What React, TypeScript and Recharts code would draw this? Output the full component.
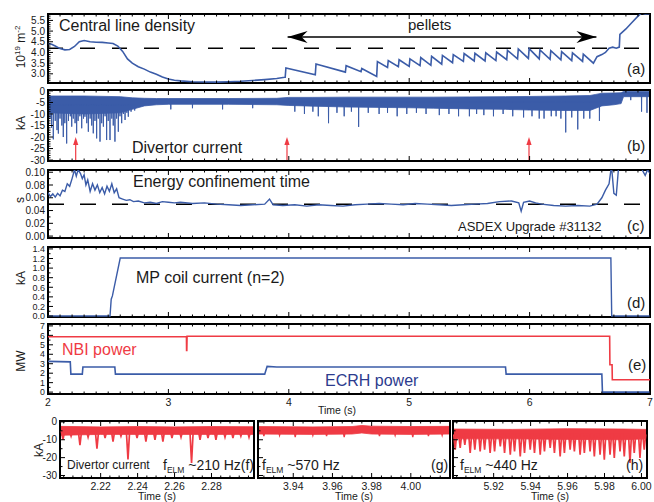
import React from 'react';
import { ComposedChart, Line, Area, Scatter, XAxis, YAxis, ReferenceLine, ReferenceArea } from 'recharts';

const FONT = '"Liberation Sans", Arial, Helvetica, sans-serif';
const BLUE = '#3b5ca8';
const RED = '#ef3b44';
const NAVY = '#2c3b8e';
const INK = '#1a1a1a';
const W = 654;
const H = 502;

// ---------- (a) central line density, 10^19 m^-2 ----------
const densEarlyT = [2.0, 2.03, 2.06, 2.1, 2.14, 2.18, 2.22, 2.26, 2.3, 2.35, 2.4, 2.45, 2.5, 2.54, 2.58, 2.62, 2.66, 2.7, 2.75, 2.8, 2.85, 2.9, 2.95, 3.0, 3.05, 3.1, 3.2, 3.3, 3.4, 3.5, 3.6, 3.7, 3.8, 3.9, 3.965];
const densEarly = [4.42, 4.38, 4.3, 4.18, 4.12, 4.14, 4.28, 4.5, 4.56, 4.5, 4.48, 4.47, 4.44, 4.42, 4.3, 4.05, 3.7, 3.5, 3.33, 3.22, 3.08, 2.98, 2.85, 2.76, 2.7, 2.67, 2.63, 2.62, 2.61, 2.63, 2.65, 2.69, 2.73, 2.78, 2.84];
const pelletT = [3.97, 4.22, 4.47, 4.6, 4.73, 4.82, 4.91, 5.0, 5.09, 5.18, 5.27, 5.36, 5.45, 5.54, 5.63, 5.72, 5.81, 5.9, 5.99, 6.08, 6.17, 6.26, 6.35, 6.44];
const pelletLow = [2.84, 2.95, 3.08, 3.1, 2.88, 3.3, 3.33, 3.35, 3.38, 3.4, 3.45, 3.52, 3.58, 3.6, 3.6, 3.62, 3.66, 3.7, 3.72, 3.7, 3.68, 3.65, 3.62, 3.58];
const pelletPeak = [3.27, 3.46, 3.38, 3.25, 3.57, 3.62, 3.66, 3.7, 3.76, 3.82, 3.86, 3.9, 3.95, 3.96, 3.98, 4.02, 4.1, 4.16, 4.18, 4.12, 4.08, 4.04, 3.98, 3.92];
const densLateT = [6.53, 6.56, 6.6, 6.63, 6.66, 6.69, 6.72, 6.745, 6.75, 6.8, 6.85, 6.9, 6.93, 6.96, 7.0];
const densLate = [3.5, 3.8, 3.9, 4.0, 4.2, 4.25, 4.2, 4.25, 4.85, 5.1, 5.4, 5.7, 5.85, 5.8, 5.82];
const densRef = 4.2;
const pelletArrowT = [3.99, 6.555];
const pelletArrowDir = [-1, 1];
const pelletArrowLevel = 4.72;
const yDensTicks = [3.0, 3.5, 4.0, 4.5, 5.0, 5.5];

// ---------- (b) divertor current, kA ----------
const divBandT = [2.0, 2.3, 2.6, 2.7, 2.8, 2.9, 3.0, 3.5, 3.9, 4.0, 4.2, 4.5, 5.0, 5.2, 5.5, 5.8, 6.0, 6.3, 6.5, 6.55, 6.6, 6.7, 6.76, 6.78, 7.0];
const divBandHi = [-2.2, -2.2, -2.5, -3, -3.2, -3.3, -3.3, -3.3, -3.2, -2.8, -2.8, -2.7, -2.7, -2.7, -2.6, -2.5, -2.4, -2.2, -2.0, -1.5, -1.0, -0.9, -0.8, -0.3, -0.3];
const divBandLo = [-9.5, -10, -9.5, -8, -6.5, -6, -5.8, -5.8, -6, -6.3, -6.6, -7, -7.3, -7.5, -7.8, -8, -8.3, -8.5, -8.5, -7.5, -6.5, -6, -5.5, -2.5, -2.5];
const divSpikeEarlyT = [2.017, 2.03, 2.044, 2.06, 2.075, 2.086, 2.1, 2.115, 2.127, 2.14, 2.155, 2.17, 2.185, 2.197, 2.21, 2.225, 2.238, 2.25, 2.265, 2.28, 2.295, 2.307, 2.322, 2.335, 2.35, 2.363, 2.376, 2.39, 2.404, 2.418, 2.432, 2.446, 2.46, 2.474, 2.487, 2.5, 2.515, 2.53, 2.542, 2.556, 2.57, 2.584, 2.598, 2.612, 2.626, 2.64, 2.655, 2.667, 2.69, 2.72];
const divSpikeEarlyMin = [-12, -16, -21, -13, -17, -18.5, -12, -15, -20, -14, -22.8, -13, -11, -15.5, -12, -14, -18.4, -13, -11, -16.2, -12, -11.2, -14, -17.7, -12, -15, -18.4, -13, -20.6, -12, -22, -14, -15.5, -11, -21.3, -13, -21.3, -12, -15, -22, -12, -17.7, -11, -14, -10, -12.6, -9.5, -11.2, -9, -8.5];
const divSpikeMidT = [3.02, 3.2, 3.45, 3.7, 4.05, 4.13, 4.2, 4.245, 4.33, 4.4, 4.46, 4.52, 4.58, 4.66, 4.75, 4.82, 4.9, 4.98, 5.06, 5.14, 5.25, 5.33, 5.41, 5.5, 5.56, 5.62, 5.7, 5.78, 5.86, 5.95, 6.02, 6.08, 6.12, 6.18, 6.22, 6.26, 6.3, 6.35, 6.4, 6.45, 6.5, 6.58];
const divSpikeMidMin = [-8, -7.5, -8, -7.5, -9, -10, -9, -11, -14, -9.5, -11, -9, -15.6, -9.5, -10, -9.5, -11, -10, -9.5, -10, -10.5, -10, -11, -11, -10, -10.5, -11, -10, -11, -11.5, -11, -12, -12, -11, -11, -12, -18, -11.5, -16.7, -12, -12, -13];
const divSpikeLateT = [6.84, 6.93, 6.975];
const divSpikeLateMin = [-4, -9, -9.5];
const zoomWindowT = [2.23, 3.985, 5.995];
const yDivTicks = [-30, -25, -20, -15, -10, -5, 0];

// ---------- (c) energy confinement time, s ----------
const tauT = [2.0, 2.02, 2.04, 2.06, 2.08, 2.1, 2.12, 2.14, 2.16, 2.18, 2.2, 2.22, 2.235, 2.25, 2.27, 2.285, 2.3, 2.315, 2.33, 2.35, 2.37, 2.39, 2.41, 2.43, 2.45, 2.47, 2.49, 2.51, 2.53, 2.55, 2.57, 2.59, 2.62, 2.65, 2.68, 2.71, 2.75, 2.8, 2.85, 2.9, 2.95, 3.0, 3.05, 3.1, 3.2, 3.3, 3.4, 3.5, 3.6, 3.7, 3.8, 3.84, 3.87, 3.95, 4.05, 4.15, 4.25, 4.35, 4.45, 4.55, 4.65, 4.75, 4.85, 4.95, 5.05, 5.15, 5.25, 5.35, 5.45, 5.55, 5.65, 5.75, 5.85, 5.91, 5.93, 5.95, 6.0, 6.05, 6.1, 6.2, 6.3, 6.4, 6.5, 6.56, 6.6, 6.63, 6.66, 6.68, 6.7, 6.72, 6.74, 6.76, 6.9, 6.94, 6.96, 6.98, 7.0];
const tau = [0.068, 0.062, 0.066, 0.061, 0.067, 0.063, 0.072, 0.07, 0.082, 0.078, 0.09, 0.104, 0.094, 0.104, 0.098, 0.09, 0.096, 0.08, 0.088, 0.07, 0.082, 0.072, 0.08, 0.068, 0.076, 0.066, 0.078, 0.07, 0.082, 0.068, 0.074, 0.06, 0.058, 0.056, 0.057, 0.054, 0.055, 0.052, 0.053, 0.051, 0.054, 0.053, 0.052, 0.053, 0.051, 0.052, 0.05, 0.049, 0.048, 0.049, 0.05, 0.058, 0.049, 0.048, 0.049, 0.047, 0.049, 0.048, 0.047, 0.049, 0.05, 0.051, 0.05, 0.049, 0.051, 0.05, 0.049, 0.048, 0.049, 0.05, 0.051, 0.054, 0.055, 0.052, 0.039, 0.053, 0.055, 0.052, 0.05, 0.048, 0.047, 0.048, 0.047, 0.05, 0.06, 0.072, 0.082, 0.11, 0.067, 0.064, 0.11, 0.12, 0.12, 0.102, 0.095, 0.104, 0.098];
const tauRef = 0.05;
const yTauTicks = [0, 0.02, 0.04, 0.06, 0.08, 0.1];

// ---------- (d) MP coil current, kA ----------
const mpT = [2.0, 2.515, 2.525, 2.535, 2.6, 6.675, 6.682, 7.0];
const mp = [0.0, 0.0, 0.35, 0.42, 1.21, 1.21, 0.0, 0.0];
const yMpTicks = [0, 0.2, 0.4, 0.6, 0.8, 1.0, 1.2, 1.4];

// ---------- (e) heating power, MW ----------
const nbiT = [2.0, 3.15, 3.151, 3.153, 3.155, 6.665, 6.667, 6.685, 6.687, 7.0];
const nbi = [5.85, 5.85, 4.4, 4.4, 5.9, 5.9, 2.9, 2.9, 1.3, 1.3];
const ecrhT = [2.0, 2.185, 2.19, 2.285, 2.29, 2.555, 2.56, 3.8, 3.82, 3.9, 5.8, 5.805, 6.6, 6.605, 7.0];
const ecrh = [3.25, 3.2, 1.9, 1.9, 2.65, 2.65, 1.9, 1.9, 2.72, 2.65, 2.65, 1.9, 1.9, 0.0, 0.0];
const yPowTicks = [0, 1, 2, 3, 4, 5, 6, 7];
const xMainTicks = [2, 3, 4, 5, 6, 7];

// ---------- (f,g,h) divertor current zooms, kA ----------
const fBandT = [2.198, 2.22, 2.24, 2.26, 2.28, 2.303];
const fBandHi = [-2.5, -2.8, -2.6, -2.8, -2.6, -2.7];
const fBandLo = [-7.5, -7, -7, -7, -7, -7];
const elmFT = [2.1996, 2.204, 2.2088, 2.2132, 2.218, 2.2224, 2.2267, 2.231, 2.2348, 2.2397, 2.2445, 2.2494, 2.2537, 2.2586, 2.2635, 2.2692, 2.2738, 2.2781, 2.2824, 2.2873, 2.2916, 2.2959, 2.3003];
const elmFMin = [-10, -8, -13, -8.5, -15, -9, -11, -8, -21, -9, -11, -10, -11, -9, -8.5, -23, -10, -9, -10, -8.5, -9, -8, -8.5];
const gBandT = [3.922, 3.95, 3.97, 3.975, 3.98, 4.0, 4.02];
const gBandHi = [-2.6, -2.8, -2.6, -2.0, -2.4, -2.6, -2.5];
const gBandLo = [-6.8, -7, -6.8, -6.2, -6.8, -7, -6.8];
const elmGT = [3.925, 3.933, 3.941, 3.95, 3.957, 3.966, 3.984, 3.992, 4.001, 4.009, 4.016];
const elmGMin = [-8, -7.5, -8.5, -7.5, -8, -8.5, -8, -7.5, -8.5, -8, -7.5];
const hBandT = [5.898, 5.93, 5.96, 5.99, 6.003];
const hBandHi = [-4, -4.2, -3.8, -4, -4.2];
const hBandLo = [-9.5, -9.5, -9.8, -10, -9.5];
const elmHT = [5.8992, 5.9019, 5.9044, 5.9073, 5.9098, 5.9127, 5.9151, 5.9181, 5.9205, 5.9236, 5.9259, 5.929, 5.9313, 5.9344, 5.9367, 5.9398, 5.9421, 5.9452, 5.9475, 5.9506, 5.9529, 5.956, 5.9583, 5.9614, 5.9637, 5.9668, 5.9691, 5.9722, 5.9745, 5.9776, 5.9799, 5.983, 5.9853, 5.9884, 5.9907, 5.9938, 5.9961, 5.9992, 6.0015];
const elmHMin = [-15.6, -14.6, -12.8, -17.4, -15.6, -16.5, -15.6, -17.4, -16.5, -13.7, -17.4, -18.3, -16.5, -19.3, -17.4, -15.6, -17.4, -18.3, -16.5, -14.6, -17.4, -19.3, -17.4, -15.6, -16.5, -18.3, -17.4, -16.5, -19.3, -18.3, -21.1, -18.3, -20.2, -16.5, -19.3, -23, -17.4, -20.2, -15.6];
const xFTicks = [2.22, 2.24, 2.26, 2.28];
const xGTicks = [3.94, 3.96, 3.98, 4.0];
const xHTicks = [5.92, 5.94, 5.96, 5.98, 6.0];
const yElmTicks = [-30, -20, -10, 0];

// ---------- helpers ----------
const zip = (ts: number[], vs: number[]) => ts.map((t, i) => ({ t, v: vs[i] }));
const band = (ts: number[], lo: number[], hi: number[]) => ts.map((t, i) => ({ t, r: [lo[i], hi[i]] }));
const spikes = (ts: number[], mins: number[], base: number, w: number) =>
  ts.flatMap((t, i) => [{ t: t - w, v: base }, { t, v: mins[i] }, { t: t + w, v: base }]);

const densData = [
  ...zip(densEarlyT, densEarly),
  ...pelletT.flatMap((t, i) => [{ t, v: pelletLow[i] }, { t: t + 0.006, v: pelletPeak[i] }]),
  ...zip(densLateT, densLate),
];
const pelletArrow = pelletArrowT.map((t, i) => ({ t, v: pelletArrowLevel, dir: pelletArrowDir[i] }));

type Box = { x: number; y: number; w: number; h: number };
const boxA: Box = { x: 48, y: 14, w: 602, h: 69 };
const boxB: Box = { x: 48, y: 90, w: 602, h: 71 };
const boxC: Box = { x: 48, y: 170, w: 602, h: 68 };
const boxD: Box = { x: 48, y: 247, w: 602, h: 70 };
const boxE: Box = { x: 48, y: 324, w: 602, h: 70 };
const boxF: Box = { x: 60, y: 421, w: 194, h: 57 };
const boxG: Box = { x: 258, y: 421, w: 192, h: 57 };
const boxH: Box = { x: 453, y: 421, w: 194, h: 57 };

function minorTicks(domain: [number, number], step: number, majors: number[]) {
  const out: number[] = [];
  const start = Math.ceil(domain[0] / step - 1e-6);
  const end = Math.floor(domain[1] / step + 1e-6);
  for (let k = start; k <= end; k++) {
    const v = +(k * step).toFixed(5);
    if (!majors.some((m) => Math.abs(m - v) < step / 10)) out.push(v);
  }
  return out;
}

type PanelProps = {
  box: Box;
  xDomain: [number, number];
  yDomain: [number, number];
  xMajor: number[];
  xStep: number;
  xFmt?: (v: number) => string;
  yMajor: number[];
  yStep: number;
  yFmt?: (v: number) => string;
  yFont?: number;
  children?: React.ReactNode;
};

function Panel({ box, xDomain, yDomain, xMajor, xStep, xFmt, yMajor, yStep, yFmt, yFont = 10, children }: PanelProps) {
  const YW = 30;
  const XH = 14;
  const xTicks = [...xMajor, ...minorTicks(xDomain, xStep, xMajor)].sort((a, b) => a - b);
  const yTicks = [...yMajor, ...minorTicks(yDomain, yStep, yMajor)].sort((a, b) => a - b);
  const bottom = box.y + box.h;

  const xTick = (p: any) => {
    const v = p.payload.value;
    const major = xMajor.includes(v);
    const len = major ? 5 : 2.5;
    return (
      <g>
        <line x1={p.x} x2={p.x} y1={bottom} y2={bottom - len} stroke="#000" strokeWidth={1} />
        <line x1={p.x} x2={p.x} y1={box.y} y2={box.y + len} stroke="#000" strokeWidth={1} />
        {major && xFmt && (
          <text x={p.x} y={bottom + 12} textAnchor="middle" fontSize={10.5} fontFamily={FONT} fill={INK}>
            {xFmt(v)}
          </text>
        )}
      </g>
    );
  };

  const yTick = (p: any) => {
    const v = p.payload.value;
    const major = yMajor.includes(v);
    const len = major ? 5 : 2.5;
    return (
      <g>
        <line x1={box.x} x2={box.x + len} y1={p.y} y2={p.y} stroke="#000" strokeWidth={1} />
        {major && yFmt && (
          <text x={box.x - 3} y={p.y + yFont * 0.36} textAnchor="end" fontSize={yFont} fontFamily={FONT} fill={INK}>
            {yFmt(v)}
          </text>
        )}
      </g>
    );
  };

  return (
    <div style={{ position: 'absolute', left: 0, top: 0 }}>
      <ComposedChart
        width={W}
        height={H}
        margin={{ top: box.y, left: box.x - YW, right: W - box.x - box.w, bottom: H - box.y - box.h - XH }}
      >
        <XAxis dataKey="t" type="number" domain={xDomain} ticks={xTicks} tick={xTick} tickLine={false} axisLine={false} height={XH} interval={0} allowDataOverflow />
        <YAxis dataKey="v" type="number" domain={yDomain} ticks={yTicks} tick={yTick} tickLine={false} axisLine={false} width={YW} interval={0} allowDataOverflow />
        {children}
        <ReferenceArea x1={xDomain[0]} x2={xDomain[1]} y1={yDomain[0]} y2={yDomain[1]} fill="none" stroke="#000" strokeWidth={2} ifOverflow="visible" />
      </ComposedChart>
    </div>
  );
}

const UpArrow = (p: any) => {
  const { cx, cy } = p;
  return (
    <g>
      <line x1={cx} x2={cx} y1={cy} y2={cy - 16} stroke={RED} strokeWidth={1.2} />
      <path d={`M${cx},${cy - 23} L${cx - 2.6},${cy - 15} L${cx + 2.6},${cy - 15} Z`} fill={RED} />
    </g>
  );
};

const ArrowHead = (p: any) => {
  const { cx, cy, payload } = p;
  const d = payload.dir;
  return <path d={`M${cx},${cy} L${cx - d * 20},${cy - 6} L${cx - d * 14},${cy} L${cx - d * 20},${cy + 6} Z`} fill="#000" />;
};

const fmt0 = (v: number) => String(v);
const fmt1 = (v: number) => v.toFixed(1);
const fmt2 = (v: number) => v.toFixed(2);

export default function App() {
  return (
    <div style={{ position: 'absolute', left: 0, top: 0, width: W, height: H, background: '#fff', fontFamily: FONT }}>
      {/* (a) density */}
      <Panel box={boxA} xDomain={[2, 7]} yDomain={[2.57, 5.8]} xMajor={xMainTicks} xStep={0.1} yMajor={yDensTicks} yStep={0.1} yFmt={fmt1}>
        <ReferenceLine y={densRef} stroke="#000" strokeWidth={1.5} strokeDasharray="15 17" />
        <Line data={densData} dataKey="v" type="linear" stroke={BLUE} strokeWidth={1.6} dot={false} isAnimationActive={false} />
        <Line data={pelletArrow} dataKey="v" type="linear" stroke="#000" strokeWidth={1.5} dot={false} isAnimationActive={false} />
        <Scatter data={pelletArrow} dataKey="v" shape={ArrowHead} isAnimationActive={false} />
      </Panel>

      {/* (b) divertor current */}
      <Panel box={boxB} xDomain={[2, 7]} yDomain={[-30.4, 0.4]} xMajor={xMainTicks} xStep={0.1} yMajor={yDivTicks} yStep={1} yFmt={fmt0}>
        <Area data={band(divBandT, divBandLo, divBandHi)} dataKey="r" type="linear" stroke={BLUE} strokeWidth={0.8} fill={BLUE} fillOpacity={1} isAnimationActive={false} />
        <Line data={spikes(divSpikeEarlyT, divSpikeEarlyMin, -6, 0.0015)} dataKey="v" type="linear" stroke={BLUE} strokeWidth={1} dot={false} isAnimationActive={false} />
        <Line data={spikes(divSpikeMidT, divSpikeMidMin, -5, 0.0015)} dataKey="v" type="linear" stroke={BLUE} strokeWidth={1} dot={false} isAnimationActive={false} />
        <Line data={spikes(divSpikeLateT, divSpikeLateMin, -1, 0.0015)} dataKey="v" type="linear" stroke={BLUE} strokeWidth={1} dot={false} isAnimationActive={false} />
        <Scatter data={zoomWindowT.map((t) => ({ t, v: -30 }))} dataKey="v" shape={UpArrow} isAnimationActive={false} />
      </Panel>

      {/* (c) confinement time */}
      <Panel box={boxC} xDomain={[2, 7]} yDomain={[-0.003, 0.1035]} xMajor={xMainTicks} xStep={0.1} yMajor={yTauTicks} yStep={0.01} yFmt={fmt2}>
        <ReferenceLine y={tauRef} stroke="#000" strokeWidth={1.5} strokeDasharray="16 16" />
        <Line data={zip(tauT, tau)} dataKey="v" type="linear" stroke={BLUE} strokeWidth={1.4} dot={false} isAnimationActive={false} />
      </Panel>

      {/* (d) MP coil current */}
      <Panel box={boxD} xDomain={[2, 7]} yDomain={[-0.02, 1.44]} xMajor={xMainTicks} xStep={0.1} yMajor={yMpTicks} yStep={0.1} yFmt={fmt1} yFont={9}>
        <Line data={zip(mpT, mp)} dataKey="v" type="linear" stroke={BLUE} strokeWidth={1.4} dot={false} isAnimationActive={false} />
      </Panel>

      {/* (e) heating power */}
      <Panel box={boxE} xDomain={[2, 7]} yDomain={[-0.2, 7.2]} xMajor={xMainTicks} xStep={0.1} xFmt={fmt0} yMajor={yPowTicks} yStep={0.5} yFmt={fmt0} yFont={8.8}>
        <Line data={zip(nbiT, nbi)} dataKey="v" type="linear" stroke={RED} strokeWidth={1.6} dot={false} isAnimationActive={false} />
        <Line data={zip(ecrhT, ecrh)} dataKey="v" type="linear" stroke={BLUE} strokeWidth={1.6} dot={false} isAnimationActive={false} />
      </Panel>

      {/* (f) */}
      <Panel box={boxF} xDomain={[2.198, 2.303]} yDomain={[-31.4, 0.5]} xMajor={xFTicks} xStep={0.005} xFmt={fmt2} yMajor={yElmTicks} yStep={5} yFmt={fmt0}>
        <Area data={band(fBandT, fBandLo, fBandHi)} dataKey="r" type="linear" stroke={RED} strokeWidth={0.8} fill={RED} fillOpacity={1} isAnimationActive={false} />
        <Line data={spikes(elmFT, elmFMin, -5, 0.0009)} dataKey="v" type="linear" stroke={RED} strokeWidth={1.7} dot={false} isAnimationActive={false} />
      </Panel>

      {/* (g) */}
      <Panel box={boxG} xDomain={[3.922, 4.02]} yDomain={[-31.4, 0.5]} xMajor={xGTicks} xStep={0.005} xFmt={fmt2} yMajor={yElmTicks} yStep={5}>
        <Area data={band(gBandT, gBandLo, gBandHi)} dataKey="r" type="linear" stroke={RED} strokeWidth={0.8} fill={RED} fillOpacity={1} isAnimationActive={false} />
        <Line data={spikes(elmGT, elmGMin, -5, 0.0006)} dataKey="v" type="linear" stroke={RED} strokeWidth={1.4} dot={false} isAnimationActive={false} />
      </Panel>

      {/* (h) */}
      <Panel box={boxH} xDomain={[5.898, 6.003]} yDomain={[-31.4, 0.5]} xMajor={xHTicks} xStep={0.005} xFmt={fmt2} yMajor={yElmTicks} yStep={5}>
        <Area data={band(hBandT, hBandLo, hBandHi)} dataKey="r" type="linear" stroke={RED} strokeWidth={0.8} fill={RED} fillOpacity={1} isAnimationActive={false} />
        <Line data={spikes(elmHT, elmHMin, -7, 0.0008)} dataKey="v" type="linear" stroke={RED} strokeWidth={1.7} dot={false} isAnimationActive={false} />
      </Panel>

      {/* annotations */}
      <svg width={W} height={H} style={{ position: 'absolute', left: 0, top: 0, pointerEvents: 'none' }} fontFamily={FONT} fill={INK}>
        <text transform="translate(25,47) rotate(-90)" textAnchor="middle" fontSize={12}>
          10<tspan dy={-5} fontSize={8}>19</tspan>
          <tspan dy={5}> m</tspan>
          <tspan dy={-5} fontSize={8}>-2</tspan>
        </text>
        <text transform="translate(25,123) rotate(-90)" textAnchor="middle" fontSize={12}>kA</text>
        <text transform="translate(24,200) rotate(-90)" textAnchor="middle" fontSize={12}>s</text>
        <text transform="translate(25,278) rotate(-90)" textAnchor="middle" fontSize={12}>kA</text>
        <text transform="translate(25,361) rotate(-90)" textAnchor="middle" fontSize={12}>MW</text>
        <text transform="translate(43,450) rotate(-90)" textAnchor="middle" fontSize={12}>kA</text>

        <text x={59} y={30.5} fontSize={16}>Central line density</text>
        <text x={408} y={30} fontSize={15}>pellets</text>
        <text x={627} y={74} fontSize={15}>(a)</text>
        <text x={132} y={152.5} fontSize={16}>Divertor current</text>
        <text x={627} y={151} fontSize={15}>(b)</text>
        <text x={133} y={187} fontSize={16}>Energy confinement time</text>
        <text x={458} y={231} fontSize={13}>ASDEX Upgrade #31132</text>
        <text x={627} y={231} fontSize={15}>(c)</text>
        <text x={136} y={283} fontSize={16}>MP coil current (n=2)</text>
        <text x={627} y={308} fontSize={15}>(d)</text>
        <text x={62} y={354.5} fontSize={16} fill={RED}>NBI power</text>
        <text x={325} y={386} fontSize={16} fill={NAVY}>ECRH power</text>
        <text x={628} y={370} fontSize={15}>(e)</text>
        <text x={337} y={414} fontSize={10.5} textAnchor="middle">Time (s)</text>

        <text x={67} y={469} fontSize={12}>Divertor current</text>
        <text x={163} y={470} fontSize={14}>
          f<tspan fontSize={8.5} dy={3}>ELM</tspan>
          <tspan dy={-3}> ~210 Hz(f)</tspan>
        </text>
        <text x={262} y={470} fontSize={14}>
          f<tspan fontSize={8.5} dy={3}>ELM</tspan>
          <tspan dy={-3}> ~570 Hz</tspan>
        </text>
        <text x={431} y={470} fontSize={14}>(g)</text>
        <text x={460} y={470} fontSize={14}>
          f<tspan fontSize={8.5} dy={3}>ELM</tspan>
          <tspan dy={-3}> ~440 Hz</tspan>
        </text>
        <text x={626} y={470} fontSize={14}>(h)</text>
        <text x={157} y={500} fontSize={10.5} textAnchor="middle">Time (s)</text>
        <text x={354} y={500} fontSize={10.5} textAnchor="middle">Time (s)</text>
        <text x={550} y={500} fontSize={10.5} textAnchor="middle">Time (s)</text>
      </svg>
    </div>
  );
}
